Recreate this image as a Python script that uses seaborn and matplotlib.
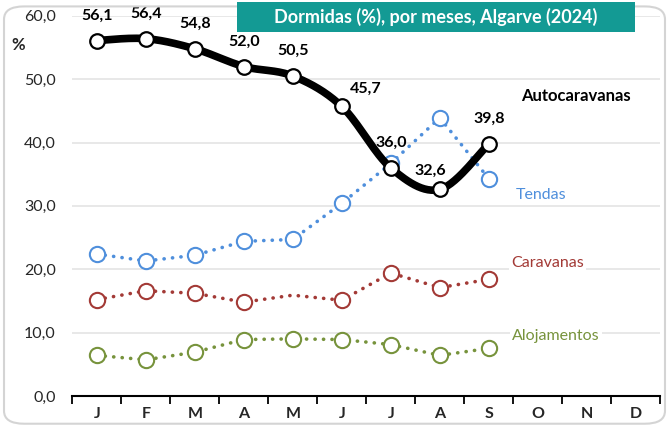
import numpy as np
import pandas as pd
import matplotlib
matplotlib.use("Agg")
import matplotlib.pyplot as plt
from matplotlib.patches import Rectangle, FancyBboxPatch
from matplotlib.ticker import FixedLocator, FuncFormatter
import seaborn as sns

###############################################
# data
###############################################
months = ["J", "F", "M", "A", "M", "J", "J", "A", "S", "O", "N", "D"]
autocaravanas = [56.1, 56.4, 54.8, 52.0, 50.5, 45.7, 36.0, 32.6, 39.8]
tendas = [22.4, 21.3, 22.2, 24.4, 24.7, 30.4, 36.7, 43.9, 34.3]
caravanas = [15.2, 16.6, 16.2, 14.8, 15.9, 15.1, 19.4, 17.1, 18.4]
alojamentos = [6.4, 5.7, 6.9, 8.9, 9.0, 8.9, 8.1, 6.4, 7.5]
auto_labels = ["56,1", "56,4", "54,8", "52,0", "50,5", "45,7", "36,0", "32,6", "39,8"]

title = "Dormidas (%), por meses, Algarve (2024)"

BLUE = "#4f8fdc"
RED = "#a33a36"
GREEN = "#77933c"
TEAL = "#139a94"

sns.set_theme(style="white")
plt.rcParams["font.family"] = ["Lato", "DejaVu Sans"]


def smooth(xs, ys, n=30):
    # catmull-rom path through the points, like excel's smoothed line
    pts = np.column_stack([xs, ys]).astype(float)
    pad = np.vstack([pts[0], pts, pts[-1]])
    out = []
    t = np.linspace(0, 1, n)[:, None]
    for i in range(1, len(pad) - 2):
        p0, p1, p2, p3 = pad[i - 1], pad[i], pad[i + 1], pad[i + 2]
        seg = 0.5 * ((2 * p1) + (-p0 + p2) * t + (2 * p0 - 5 * p1 + 4 * p2 - p3) * t ** 2
                     + (-p0 + 3 * p1 - 3 * p2 + p3) * t ** 3)
        out.append(seg)
    out = np.vstack(out)
    return out[:, 0], out[:, 1]


fig = plt.figure(figsize=(6.69, 4.28), dpi=100)
fig.patch.set_facecolor("white")

# rounded frame around the chart
frame = FancyBboxPatch((0.006, 0.01), 0.988, 0.975, boxstyle="round,pad=0,rounding_size=0.03",
                       transform=fig.transFigure, facecolor="none", edgecolor="#d4d4d4", lw=1.5)
fig.patches.append(frame)

ax = fig.add_axes([0.108, 0.075, 0.879, 0.888])

x = np.arange(len(autocaravanas))
df = pd.DataFrame({"x": x, "Tendas": tendas, "Caravanas": caravanas, "Alojamentos": alojamentos})

dot_style = dict(lw=2.6, linestyle=(0, (0.05, 2.3)), dash_capstyle="round")
marker_style = dict(marker="o", markersize=11, markerfacecolor="white", markeredgewidth=1.5)

sns.lineplot(data=df, x="x", y="Tendas", ax=ax, color=BLUE, markeredgecolor=BLUE,
             **dot_style, **marker_style, zorder=3)
sns.lineplot(data=df, x="x", y="Caravanas", ax=ax, color=RED, markeredgecolor=RED,
             markevery=[0, 1, 2, 3, 5, 6, 7, 8], **dot_style, **marker_style, zorder=3)
sns.lineplot(data=df, x="x", y="Alojamentos", ax=ax, color=GREEN, markeredgecolor=GREEN,
             **dot_style, **marker_style, zorder=3)

# autocaravanas: thick smoothed black line
sx, sy = smooth(x, autocaravanas)
ax.plot(sx, sy, color="black", lw=5.5, solid_capstyle="round", zorder=5)
sns.scatterplot(x=x, y=autocaravanas, ax=ax, s=110, color="white", edgecolor="black",
                linewidth=1.6, zorder=6)

# label offsets (points): most sit above, a couple are nudged sideways
offsets = {5: (17, 8), 7: (-7, 8)}
for i, (xi, yi, lab) in enumerate(zip(x, autocaravanas, auto_labels)):
    dx, dy = offsets.get(i, (0, 13))
    ax.annotate(lab, (xi, yi), xytext=(dx, dy), textcoords="offset points", ha="center",
                va="bottom", fontsize=11.5, fontweight="bold", color="black", zorder=7)

# series labels
box = dict(facecolor="white", edgecolor="none", pad=1.5)
ax.text(8.66, 47.3, "Autocaravanas", fontsize=12, fontweight="bold", color="black",
        ha="left", va="center", bbox=box, zorder=4)
ax.text(8.55, 31.7, "Tendas", fontsize=11.5, color=BLUE, ha="left", va="center", bbox=box, zorder=2)
ax.text(8.45, 21.0, "Caravanas", fontsize=11.5, color=RED, ha="left", va="center", bbox=box, zorder=2)
ax.text(8.48, 9.5, "Alojamentos", fontsize=11.5, color=GREEN, ha="left", va="center", bbox=box, zorder=2)

# axes
ax.set_xlim(-0.5, len(months) - 0.5)
ax.set_ylim(0, 60)
ax.set_xlabel("")
ax.set_ylabel("")
ax.yaxis.set_major_locator(FixedLocator(np.arange(0, 61, 10)))
ax.yaxis.set_major_formatter(FuncFormatter(lambda v, p: f"{v:.1f}".replace(".", ",")))
ax.grid(axis="y", color="#e4e4e4", lw=1.2, zorder=0)
ax.set_axisbelow(True)

ax.set_xticks(np.arange(len(months)))
ax.set_xticklabels(months, fontweight="bold", fontsize=11.5)
ax.set_xticks(np.arange(-0.5, len(months)), minor=True)
ax.tick_params(axis="x", which="major", length=0, pad=8)
ax.tick_params(axis="x", which="minor", length=6, width=1.3, color="black", direction="out", bottom=True)
ax.tick_params(axis="y", length=0, pad=12, labelsize=11.5)

for side in ["left", "right", "top"]:
    ax.spines[side].set_visible(False)
ax.spines["bottom"].set_color("black")
ax.spines["bottom"].set_linewidth(1.5)

fig.text(0.027, 0.895, "%", fontsize=12, fontweight="bold", ha="center", va="center")

# title box
fig.patches.append(Rectangle((0.354, 0.925), 0.595, 0.07, transform=fig.transFigure,
                             facecolor=TEAL, edgecolor="none", zorder=10))
fig.text(0.651, 0.96, title, fontsize=13, fontweight="bold", color="white",
         ha="center", va="center", zorder=11)

fig.savefig("out.png", dpi=100)
